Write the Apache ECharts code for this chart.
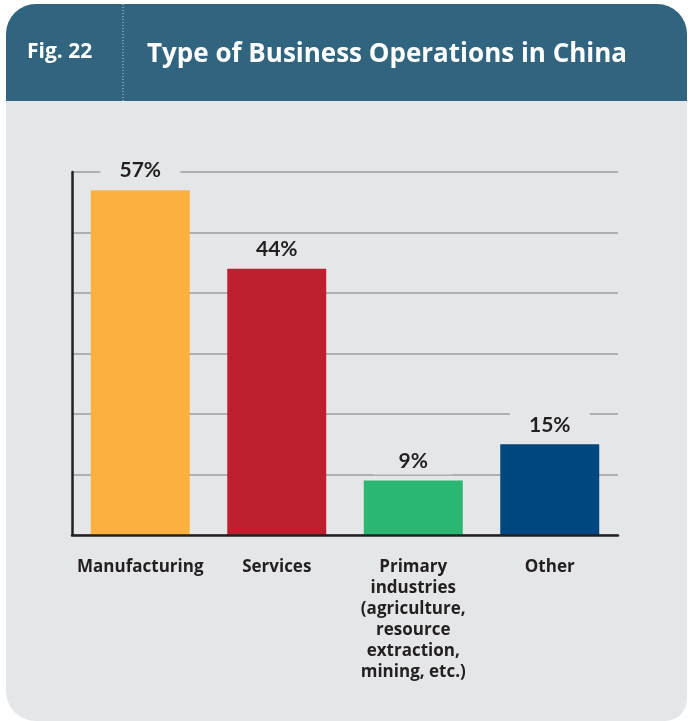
<!DOCTYPE html>
<html>
<head>
<meta charset="utf-8">
<script src="https://cdn.jsdelivr.net/npm/echarts@6/dist/echarts.min.js"></script>
<style>
  html, body { margin: 0; padding: 0; background: #ffffff; }
  #chart { width: 688px; height: 721px; }
</style>
</head>
<body>
<div id="chart"></div>
<script>
// Business operation types and the share of respondents for each
const categories = [
  'Manufacturing',
  'Services',
  'Primary\nindustries\n(agriculture,\nresource\nextraction,\nmining, etc.)',
  'Other'
];
const shares = [57, 44, 9, 15];
const barColors = ['#fbb040', '#be1e2d', '#2bb673', '#00467f'];

const figLabel = 'Fig. 22';
const titleText = 'Type of Business Operations in China';

const cardBg = '#e5e6e8';
const headerBg = '#31657f';
const ink = '#231f20';

const chart = echarts.init(document.getElementById('chart'), null, { renderer: 'canvas' });

chart.setOption({
  backgroundColor: '#ffffff',
  animation: false,
  graphic: [
    // card body
    {
      type: 'rect', z: -10,
      shape: { x: 6, y: 4, width: 681, height: 717, r: [30, 30, 22, 30] },
      style: { fill: cardBg }
    },
    // header band
    {
      type: 'rect', z: -9,
      shape: { x: 6, y: 4, width: 681, height: 97, r: [30, 30, 0, 0] },
      style: { fill: headerBg }
    },
    // dotted divider in the header
    {
      type: 'line', z: -8,
      shape: { x1: 123, y1: 4, x2: 123, y2: 101 },
      style: { stroke: '#c9d6de', lineWidth: 1, lineDash: [1, 2] }
    },
    {
      type: 'text', z: -7,
      style: {
        x: 27, y: 52, text: figLabel,
        font: '700 21px "Open Sans", sans-serif',
        fill: '#ffffff', verticalAlign: 'middle'
      }
    },
    {
      type: 'text', z: -7,
      style: {
        x: 147, y: 55, text: titleText,
        font: '700 26px "Open Sans", sans-serif',
        fill: '#ffffff', verticalAlign: 'middle'
      }
    }
  ],
  grid: { left: 72, right: 70, top: 172, bottom: 186, containLabel: false },
  xAxis: {
    type: 'category',
    data: categories,
    axisLine: { show: true, lineStyle: { color: ink, width: 2.5 } },
    axisTick: { show: false },
    axisLabel: {
      interval: 0,
      margin: 22,
      color: ink,
      fontFamily: '"Open Sans", sans-serif',
      fontWeight: 700,
      fontSize: 17,
      lineHeight: 21,
      align: 'center'
    },
    z: 5
  },
  yAxis: {
    type: 'value',
    min: 0,
    max: 60,
    interval: 10,
    axisLine: { show: true, lineStyle: { color: ink, width: 2.5 } },
    axisTick: { show: false },
    axisLabel: { show: false },
    splitLine: { show: true, lineStyle: { color: '#9d9d9f', width: 1.5 } }
  },
  series: [
    {
      type: 'bar',
      barWidth: '72.5%',
      data: shares.map((v, i) => ({ value: v, itemStyle: { color: barColors[i] } })),
      label: {
        show: true,
        position: 'top',
        distance: 6,
        formatter: '{c}%',
        color: ink,
        fontFamily: 'Lato, sans-serif',
        fontWeight: 'bold',
        fontSize: 21,
        backgroundColor: cardBg,
        width: 80,
        align: 'center',
        padding: [3, 0, 3, 0]
      },
      z: 3
    }
  ]
});
</script>
</body>
</html>
